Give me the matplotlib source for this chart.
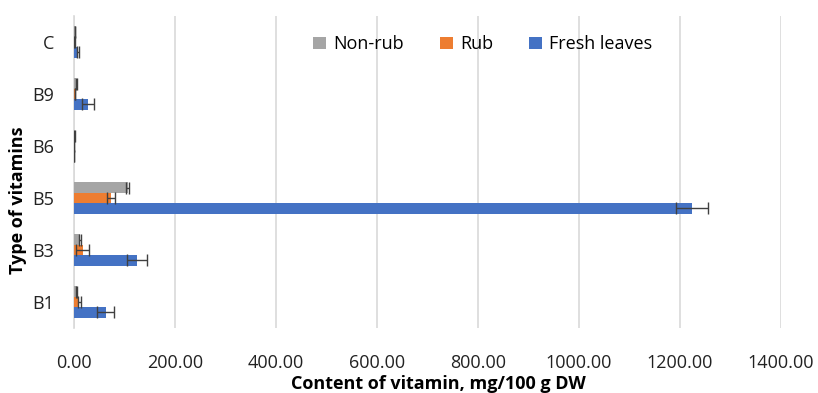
import numpy as np
import matplotlib
matplotlib.use("Agg")
import matplotlib.pyplot as plt

plt.rcParams['font.family'] = ['Open Sans', 'DejaVu Sans']

# vitamin content, mg/100 g DW
vitamins = ["B1", "B3", "B5", "B6", "B9", "C"]
non_rub = [5, 12, 106, 0.8, 4, 2]
non_rub_err = [1, 2, 3, 0.3, 1, 0.5]
rub = [10, 17, 73, 0.3, 2, 1]
rub_err = [3, 13, 8, 0.2, 0.5, 0.3]
fresh = [63, 124, 1224, 0.5, 28, 7]
fresh_err = [17, 20, 32, 0.3, 12, 2]

series = [
    ("Non-rub", non_rub, non_rub_err, "#A5A5A5", 0.2),
    ("Rub", rub, rub_err, "#ED7D31", 0.0),
    ("Fresh leaves", fresh, fresh_err, "#4472C4", -0.2),
]

fig = plt.figure(figsize=(8.18, 3.93), dpi=100)
ax = fig.add_axes([0.0905, 0.1654, 0.8643, 0.7939])

y = np.arange(len(vitamins))
for name, vals, errs, color, off in series:
    ax.barh(y + off, vals, height=0.2, color=color, label=name,
            xerr=errs, error_kw=dict(ecolor="#404040", capsize=4,
                                     elinewidth=1, capthick=1),
            zorder=3)

ax.set_xlim(0, 1400)
ax.set_ylim(-0.5, 5.5)
ax.set_xticks(np.arange(0, 1401, 200))
ax.set_xticklabels([f"{v:.2f}" for v in np.arange(0, 1401, 200)])
ax.set_yticks(y)
ax.set_yticklabels(vitamins)
ax.tick_params(axis="x", length=0, pad=19, labelsize=13, colors="#222222")
ax.tick_params(axis="y", length=0, pad=14, labelsize=13, colors="#222222")

ax.grid(axis="x", color="#D9D9D9", linewidth=1.2, zorder=0)
for s in ["top", "right", "bottom"]:
    ax.spines[s].set_visible(False)
ax.spines["left"].set_color("#D9D9D9")
ax.spines["left"].set_linewidth(1.2)

ax.set_xlabel("Content of vitamin, mg/100 g DW", fontsize=13,
              fontweight="bold")
ax.xaxis.set_label_coords(0.515, -0.15)
ax.set_ylabel("Type of vitamins", fontsize=13, fontweight="bold")
ax.yaxis.set_label_coords(-0.066, 0.41)

ax.legend(loc="upper center", bbox_to_anchor=(0.578, 0.99), ncol=3,
          frameon=False, fontsize=13, handlelength=0.7, handleheight=0.7,
          handletextpad=0.4, columnspacing=2.0)

fig.savefig("out.png", dpi=100)
